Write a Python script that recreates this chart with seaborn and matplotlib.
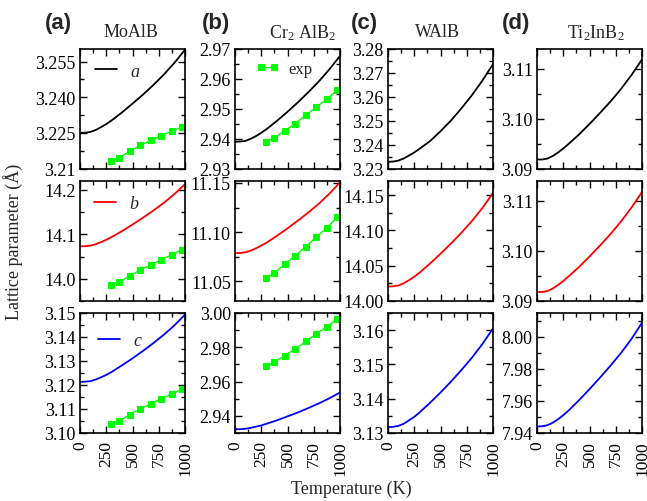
import numpy as np
import pandas as pd
import matplotlib
matplotlib.use("Agg")
import matplotlib.pyplot as plt
import seaborn as sns
from matplotlib.ticker import FixedLocator, FixedFormatter, MultipleLocator

# ---------------- data ----------------
T = [0, 50, 100, 150, 200, 250, 300, 400, 500, 600, 700, 800, 900, 1000]
T_exp = [298, 373, 473, 573, 673, 773, 873, 973]

moalb_a = [3.2250, 3.2251, 3.2254, 3.2262, 3.2274, 3.2287, 3.2302, 3.2336, 3.2373, 3.2411, 3.2452, 3.2496, 3.2545, 3.2600]
moalb_b = [14.0730, 14.0733, 14.0747, 14.0779, 14.0825, 14.0877, 14.0937, 14.1073, 14.1220, 14.1374, 14.1537, 14.1712, 14.1908, 14.2130]
moalb_c = [3.1213, 3.1214, 3.1216, 3.1223, 3.1232, 3.1242, 3.1254, 3.1282, 3.1311, 3.1342, 3.1375, 3.1410, 3.1449, 3.1493]
cr_a = [2.9389, 2.9390, 2.9392, 2.9399, 2.9408, 2.9419, 2.9431, 2.9459, 2.9489, 2.9521, 2.9555, 2.9591, 2.9631, 2.9675]
cr_b = [11.0787, 11.0788, 11.0796, 11.0812, 11.0836, 11.0863, 11.0893, 11.0963, 11.1039, 11.1118, 11.1201, 11.1291, 11.1392, 11.1506]
cr_c = [2.9322, 2.9322, 2.9325, 2.9330, 2.9337, 2.9344, 2.9354, 2.9374, 2.9397, 2.9420, 2.9446, 2.9473, 2.9503, 2.9536]
walb_a = [3.2328, 3.2329, 3.2333, 3.2342, 3.2354, 3.2367, 3.2382, 3.2414, 3.2455, 3.2500, 3.2551, 3.2606, 3.2667, 3.2735]
walb_b = [14.0205, 14.0208, 14.0221, 14.0251, 14.0295, 14.0344, 14.0401, 14.0530, 14.0669, 14.0815, 14.0968, 14.1135, 14.1320, 14.1530]
walb_c = [3.1317, 3.1318, 3.1321, 3.1327, 3.1337, 3.1347, 3.1360, 3.1388, 3.1418, 3.1450, 3.1484, 3.1520, 3.1560, 3.1605]
ti_a = [3.0918, 3.0918, 3.0920, 3.0925, 3.0932, 3.0940, 3.0949, 3.0968, 3.0989, 3.1011, 3.1034, 3.1059, 3.1087, 3.1118]
ti_b = [3.0918, 3.0918, 3.0920, 3.0925, 3.0932, 3.0940, 3.0949, 3.0968, 3.0989, 3.1011, 3.1034, 3.1059, 3.1087, 3.1118]
ti_c = [7.9441, 7.9442, 7.9449, 7.9464, 7.9486, 7.9511, 7.9540, 7.9605, 7.9674, 7.9746, 7.9821, 7.9900, 7.9988, 8.0089]

moalb_a_exp = [3.2131, 3.2145, 3.2172, 3.2197, 3.2218, 3.2238, 3.2257, 3.2275]
moalb_b_exp = [13.9866, 13.9925, 14.0060, 14.0200, 14.0310, 14.0430, 14.0540, 14.0650]
moalb_c_exp = [3.1039, 3.1050, 3.1076, 3.1100, 3.1121, 3.1143, 3.1162, 3.1183]
cr_a_exp = [2.9389, 2.9403, 2.9425, 2.9450, 2.9478, 2.9504, 2.9531, 2.9561]
cr_b_exp = [11.0537, 11.0582, 11.0675, 11.0760, 11.0852, 11.0948, 11.1044, 11.1150]
cr_c_exp = [2.9688, 2.9713, 2.9752, 2.9790, 2.9834, 2.9878, 2.9919, 2.9966]

compounds = ["MoAlB", "Cr$_2$ AlB$_2$", "WAlB", "Ti$_2$InB$_2$"]
panel_tags = ["(a)", "(b)", "(c)", "(d)"]
params = ["a", "b", "c"]
x_ticks = [0, 250, 500, 750, 1000]
x_ticklabels = ["0", "250", "500", "750", "1000"]

calc = [[moalb_a, moalb_b, moalb_c],
        [cr_a, cr_b, cr_c],
        [walb_a, walb_b, walb_c],
        [ti_a, ti_b, ti_c]]
expt = [[moalb_a_exp, moalb_b_exp, moalb_c_exp],
        [cr_a_exp, cr_b_exp, cr_c_exp],
        None, None]

# y tick values / labels per panel  [col][row]
yticks = [
    [([3.21, 3.225, 3.240, 3.255], ["3.21", "3.225", "3.240", "3.255"]),
     ([14.0, 14.1, 14.2], ["14.0", "14.1", "14.2"]),
     ([3.10, 3.11, 3.12, 3.13, 3.14, 3.15], ["3.10", "3.11", "3.12", "3.13", "3.14", "3.15"])],
    [([2.93, 2.94, 2.95, 2.96, 2.97], ["2.93", "2.94", "2.95", "2.96", "2.97"]),
     ([11.05, 11.10, 11.15], ["11.05", "11.10", "11.15"]),
     ([2.94, 2.96, 2.98, 3.00], ["2.94", "2.96", "2.98", "3.00"])],
    [([3.23, 3.24, 3.25, 3.26, 3.27, 3.28], ["3.23", "3.24", "3.25", "3.26", "3.27", "3.28"]),
     ([14.00, 14.05, 14.10, 14.15], ["14.00", "14.05", "14.10", "14.15"]),
     ([3.13, 3.14, 3.15, 3.16], ["3.13", "3.14", "3.15", "3.16"])],
    [([3.09, 3.10, 3.11], ["3.09", "3.10", "3.11"]),
     ([3.09, 3.10, 3.11], ["3.09", "3.10", "3.11"]),
     ([7.94, 7.96, 7.98, 8.00], ["7.94", "7.96", "7.98", "8.00"])],
]
yminor = [[0.0075, 0.05, 0.005], [0.005, 0.025, 0.01], [0.005, 0.025, 0.005], [0.005, 0.005, 0.01]]
ylims = [[(3.21, 3.2605), (13.95, 14.22), (3.10, 3.15)],
         [(2.93, 2.97), (11.03, 11.152), (2.93, 3.00)],
         [(3.23, 3.28), (14.00, 14.17), (3.13, 3.165)],
         [(3.09, 3.114), (3.09, 3.114), (7.94, 8.015)]]

# ---------------- style ----------------
sns.set_style("ticks")
plt.rcParams["font.family"] = ["Liberation Serif", "DejaVu Serif"]
plt.rcParams["mathtext.fontset"] = "custom"
plt.rcParams["mathtext.rm"] = "Liberation Serif"
plt.rcParams["mathtext.it"] = "Liberation Serif:italic"
plt.rcParams["mathtext.bf"] = "Liberation Serif:bold"

colors = ["black", "#ff0000", "#0000ff"]
green = "#00ff00"

FW, FH = 647, 502
fig = plt.figure(figsize=(FW / 100, FH / 100), dpi=100)
lefts = [80, 235, 388, 537]
tops = [49.5, 182, 314]
W, H = 105, 120

for j in range(4):
    for i in range(3):
        ax = fig.add_axes([lefts[j] / FW, 1 - (tops[i] + H) / FH, W / FW, H / FH])
        sns.lineplot(x=T, y=calc[j][i], ax=ax, color=colors[i], linewidth=1.3,
                     legend=False)
        if expt[j] is not None:
            sns.lineplot(x=T_exp, y=expt[j][i], ax=ax, color=green, linewidth=1.0,
                         marker="s", markersize=4.5, markeredgecolor=green,
                         markerfacecolor=green, legend=False)
        ax.set_xlim(0, 1000)
        ax.set_ylim(*ylims[j][i])
        tv, tl = yticks[j][i]
        ax.yaxis.set_major_locator(FixedLocator(tv))
        ax.yaxis.set_major_formatter(FixedFormatter(tl))
        ax.yaxis.set_minor_locator(MultipleLocator(yminor[j][i]))
        ax.xaxis.set_major_locator(FixedLocator(x_ticks))
        ax.xaxis.set_minor_locator(MultipleLocator(125))
        ax.set_xlabel("")
        ax.set_ylabel("")
        ax.tick_params(which="both", direction="in", top=True, right=True,
                       labelsize=13, width=1.0, colors="black")
        ax.tick_params(axis="y", pad=3)
        ax.tick_params(axis="x", pad=5)
        ax.tick_params(which="major", length=5)
        ax.tick_params(which="minor", length=3)
        for s in ax.spines.values():
            s.set_linewidth(1.2)
            s.set_color("black")
        if i == 2:
            ax.xaxis.set_major_formatter(FixedFormatter(x_ticklabels))
            for lab in ax.get_xticklabels():
                lab.set_rotation(90)
                lab.set_fontsize(12.5)
        else:
            ax.tick_params(labelbottom=False)
        if j == 0:
            anchors = [(0.14, 0.81), (0.13, 0.81), (0.17, 0.77)]
            ax.legend(handles=[ax.lines[0]], labels=["$" + params[i] + "$"],
                      loc="center left", bbox_to_anchor=anchors[i], frameon=False,
                      borderaxespad=0, borderpad=0, handlelength=1.25,
                      handletextpad=0.7, fontsize=13)
        if j == 1 and i == 0:
            ax.legend(handles=[ax.lines[1]], labels=["exp"], numpoints=2,
                      loc="center left", bbox_to_anchor=(0.20, 0.83), frameon=False,
                      borderaxespad=0, borderpad=0, handlelength=1.35,
                      handletextpad=0.6, fontsize=12)

title_x = [131, 303, 437, 596]
tag_x = [58, 216, 364, 516]
for j in range(4):
    fig.text(title_x[j] / FW, 1 - 33 / FH, compounds[j], ha="center", va="center",
             fontsize=13)
    fig.text(tag_x[j] / FW, 1 - 23 / FH, panel_tags[j], ha="center", va="center",
             fontsize=16, fontweight="bold", family="Liberation Sans")

fig.text(13 / FW, 1 - 242 / FH, "Lattice parameter (Å)", rotation=90,
         ha="center", va="center", fontsize=13)
fig.text(351 / FW, 1 - 489 / FH, "Temperature (K)", ha="center", va="center",
         fontsize=13)

fig.savefig("out.png", dpi=100)
